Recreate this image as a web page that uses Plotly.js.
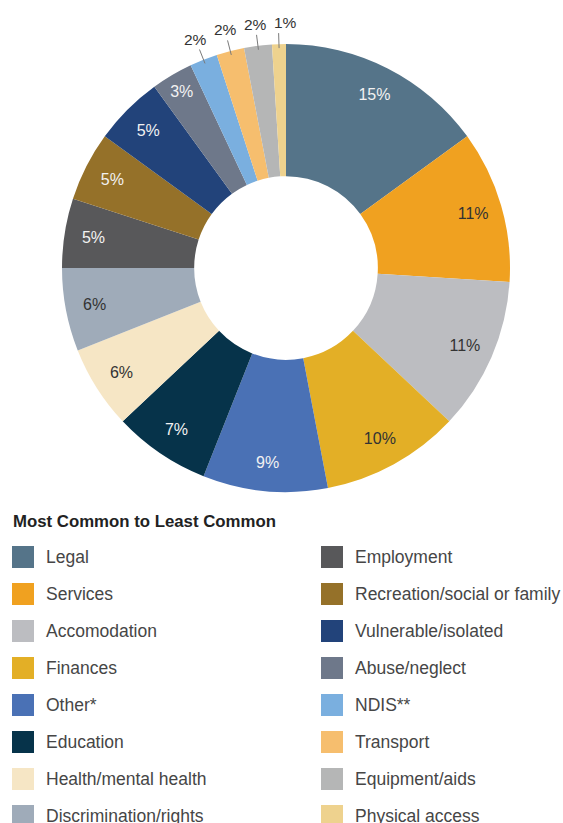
<!DOCTYPE html>
<html>
<head>
<meta charset="utf-8">
<script src="https://cdn.plot.ly/plotly-3.0.1.min.js"></script>
<style>html,body{margin:0;padding:0;background:#fff;}#chart{width:563px;height:823px;}</style>
</head>
<body>
<div id="chart"></div>
<script>
// ---- data ----
const categories = ["Legal","Services","Accomodation","Finances","Other*","Education","Health/mental health","Discrimination/rights","Employment","Recreation/social or family","Vulnerable/isolated","Abuse/neglect","NDIS**","Transport","Equipment/aids","Physical access"];
const percentages = [15,11,11,10,9,7,6,6,5,5,5,3,2,2,2,1];
const legendTitle = "Most Common to Least Common";

// ---- styles ----
const colors = ["#557489","#F0A120","#BCBDC1","#E3AF26","#4A71B5","#06334A","#F6E6C5","#9FABB9","#58585A","#957129","#22437A","#6E788A","#7AAFDF","#F6BE6E","#B5B6B6","#EED28E"];
const darkSlices = ["Legal","Other*","Education","Employment","Recreation/social or family","Vulnerable/isolated","Abuse/neglect"];
const outsideSlices = ["NDIS**","Transport","Equipment/aids","Physical access"];
const textColors = categories.map(c => darkSlices.includes(c) ? "#f2f2f2" : "#333333");
const textPositions = categories.map(c => outsideSlices.includes(c) ? "none" : "inside");

const W = 563, H = 823;
const FONT = "Liberation Sans, Arial, sans-serif";
const PX0 = 62, PX1 = 510, PY0 = 44, PY1 = 492;
const domain = {x:[PX0/W, PX1/W], y:[1-PY1/H, 1-PY0/H]};
const CX = (PX0+PX1)/2, CY = (PY0+PY1)/2, R = (PX1-PX0)/2;
const px = x => x/W, py = y => 1 - y/H;

const ring = {
  type:"pie", labels:categories, values:percentages, sort:false, direction:"clockwise", rotation:0,
  hole:0.41, domain:domain, marker:{colors:colors, line:{width:0}},
  textinfo:"none", hoverinfo:"label+value", showlegend:false
};
const labelsRing = {
  type:"pie", labels:categories, values:percentages, sort:false, direction:"clockwise", rotation:0,
  hole:0.74, domain:domain, marker:{colors:categories.map(()=> "rgba(0,0,0,0)"), line:{width:0}},
  texttemplate:"%{value}%", textposition:textPositions, insidetextorientation:"horizontal",
  textfont:{family:FONT, size:16, color:textColors},
  hoverinfo:"skip", showlegend:false
};

const shapes = [], annotations = [];

// ---- outside labels with leader lines for the smallest slices ----
const total = percentages.reduce((a,b)=>a+b,0);
let cum = 0;
const outs = [];
percentages.forEach((v,i) => {
  const mid = (cum + v/2)/total; cum += v;
  if (!outsideSlices.includes(categories[i])) return;
  const ang = mid*2*Math.PI;
  const dx = Math.sin(ang), dy = -Math.cos(ang);
  const r0 = R - 4, r1 = R + 11;
  outs.push({i, x0:CX+dx*r0, y0:CY+dy*r0, x1:CX+dx*r1, y1:CY+dy*r1});
});
// spread label centres so neighbouring labels don't collide
outs.forEach(o => o.lx = o.x1);
const MINGAP = 30;
for (let it = 0; it < 50; it++) {
  for (let k = 1; k < outs.length; k++) {
    const a = outs[k-1], b = outs[k];
    const d = b.lx - a.lx;
    if (d < MINGAP) { const s = (MINGAP - d)/2; a.lx -= s; b.lx += s; }
  }
}
outs.forEach(o => {
  shapes.push({type:"line", xref:"paper", yref:"paper", x0:px(o.x0), y0:py(o.y0), x1:px(o.x1), y1:py(o.y1),
    line:{color:"#7a7a7a", width:1}});
  annotations.push({xref:"paper", yref:"paper", x:px(o.lx), y:py(o.y1-1), xanchor:"center", yanchor:"bottom",
    text:percentages[o.i]+"%", showarrow:false, borderpad:0,
    font:{family:FONT, size:15.5, color:"#333"}});
});

// ---- manual two-column legend ----
annotations.push({xref:"paper", yref:"paper", x:px(11), y:py(521), xanchor:"left", yanchor:"middle",
  text:"<b>"+legendTitle+"</b>", showarrow:false, font:{family:FONT, size:16.8, color:"#222"}});
const perCol = Math.ceil(categories.length/2);
categories.forEach((c,i) => {
  const col = Math.floor(i/perCol), row = i % perCol;
  const sx = col === 0 ? 12 : 321;
  const cy = 557 + 37*row;
  shapes.push({type:"rect", xref:"paper", yref:"paper", x0:px(sx), x1:px(sx+22), y0:py(cy+11), y1:py(cy-11),
    fillcolor:colors[i], line:{width:0}});
  annotations.push({xref:"paper", yref:"paper", x:px(sx+32), y:py(cy), xanchor:"left", yanchor:"middle",
    text:c, showarrow:false, font:{family:FONT, size:17.5, color:"#464646"}});
});

const layout = {
  width:W, height:H, margin:{l:0,r:0,t:0,b:0}, paper_bgcolor:"#fff", plot_bgcolor:"#fff",
  showlegend:false, shapes:shapes, annotations:annotations,
  uniformtext:{mode:"show", minsize:16}, font:{family:FONT}
};
Plotly.newPlot("chart", [ring, labelsRing], layout, {staticPlot:true});
</script>
</body>
</html>
